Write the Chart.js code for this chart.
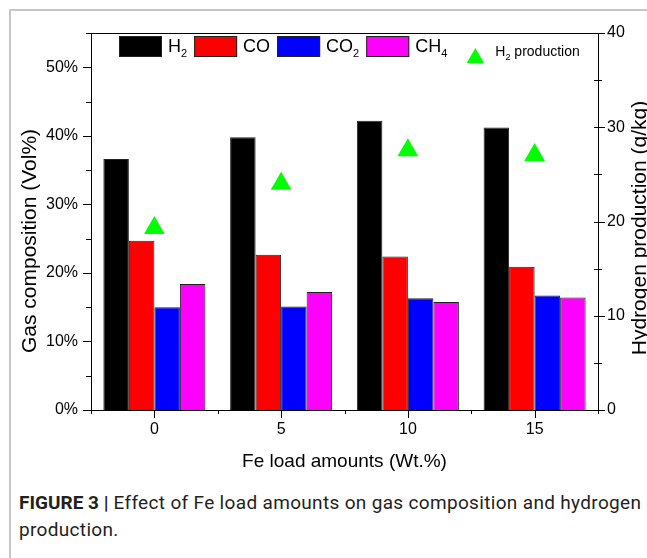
<!DOCTYPE html>
<html lang="en">
<head>
  <meta charset="UTF-8">
  <title>Effect of Fe load amounts on gas composition</title>
  <script src="https://cdn.jsdelivr.net/npm/chart.js"></script>
  <style>
    html, body { margin: 0; padding: 0; background: #fff; }
    body {
      width: 647px; height: 558px;
      position: relative; overflow: hidden;
      font-family: 'Liberation Sans', Arial, sans-serif;
    }
    .frame {
      position: absolute; left: 9px; top: 9px; right: -10px; bottom: -10px;
      border-left: 2px solid #c6c6c6; border-top: 2px solid #c6c6c6;
    }
    #gasChart { position: absolute; left: 0; top: 0; }
    .caption {
      position: absolute; left: 19px; top: 489px;
      font: 19px/27px 'Roboto', 'Liberation Sans', sans-serif;
      letter-spacing: 0.33px;
      color: #231f20;
      white-space: nowrap;
    }
    .caption b { font-weight: bold; letter-spacing: 0; }
  </style>
</head>
<body>
<div class="frame"></div>
<canvas id="gasChart" width="647" height="480"></canvas>
<div class="caption"><b>FIGURE 3 |</b> Effect of Fe load amounts on gas composition and hydrogen<br>production.</div>

<script>
  const feLoads = ['0', '5', '10', '15'];
  const h2 = [36.6, 39.8, 42.2, 41.2];
  const co = [24.7, 22.65, 22.4, 20.9];
  const co2 = [15.0, 15.1, 16.3, 16.7];
  const ch4 = [18.4, 17.2, 15.75, 16.4];
  const h2Production = [19.3, 24.0, 27.55, 27.05];

  const volTicks = [0, 10, 20, 30, 40, 50];
  const prodTicks = [0, 10, 20, 30, 40];

  const FONT = "'Liberation Sans', Arial, sans-serif";

  // outward tick marks on the three axes plus the top edge of the frame
  const axisTicks = {
    id: 'axisTicks',
    afterDraw(chart) {
      const { ctx, chartArea: a, scales } = chart;
      ctx.save();
      ctx.strokeStyle = '#000';
      ctx.lineWidth = 1;
      ctx.beginPath();
      ctx.moveTo(a.left, a.top + 0.5);
      ctx.lineTo(a.right, a.top + 0.5);
      for (let v = 0; v <= 55; v += 5) {
        const y = Math.round(scales.y.getPixelForValue(v)) + 0.5;
        const len = v % 10 === 0 ? 8 : 5;
        ctx.moveTo(a.left - len, y);
        ctx.lineTo(a.left, y);
      }
      for (let v = 0; v <= 40; v += 5) {
        const y = Math.round(scales.y2.getPixelForValue(v)) + 0.5;
        const len = v % 10 === 0 ? 7 : 4;
        ctx.moveTo(a.right - 4, y);
        ctx.lineTo(a.right + len, y);
      }
      const x = scales.x;
      for (let i = 0; i < feLoads.length; i++) {
        const cx = Math.round(x.getPixelForValue(i)) + 0.5;
        ctx.moveTo(cx, a.bottom);
        ctx.lineTo(cx, a.bottom + 8);
      }
      for (let i = 0; i <= feLoads.length; i++) {
        const bx = Math.round(x.getPixelForValue(i - 0.5)) + 0.5;
        ctx.moveTo(bx, a.bottom);
        ctx.lineTo(bx, a.bottom + 4);
      }
      ctx.stroke();
      ctx.restore();
    }
  };

  // text where every digit is set as a subscript (H2, CO2, CH4)
  function drawChemText(ctx, text, x, y, size) {
    for (const ch of text) {
      const sub = /[0-9]/.test(ch);
      ctx.font = (sub ? Math.round(size * 0.62) : size) + 'px ' + FONT;
      ctx.fillText(ch, x, sub ? y + size * 0.28 : y);
      x += ctx.measureText(ch).width;
    }
    return x;
  }

  // one-row legend inside the top of the plot
  const legendRow = {
    id: 'legendRow',
    afterDraw(chart) {
      const ctx = chart.ctx;
      ctx.save();
      ctx.textBaseline = 'alphabetic';
      ctx.textAlign = 'left';
      let x = 119;
      chart.data.datasets.forEach(ds => {
        if (ds.type === 'line') {
          const r = 10, cx = x + 21, cy = 58;
          ctx.fillStyle = ds.pointBackgroundColor;
          ctx.beginPath();
          ctx.moveTo(cx, cy - r);
          ctx.lineTo(cx + r * 0.866, cy + r * 0.5);
          ctx.lineTo(cx - r * 0.866, cy + r * 0.5);
          ctx.closePath();
          ctx.fill();
          ctx.fillStyle = '#000';
          drawChemText(ctx, ds.label, cx + 20, 56, 14);
        } else {
          ctx.fillStyle = ds.backgroundColor;
          ctx.fillRect(x, 36, 43, 21);
          ctx.strokeStyle = '#222';
          ctx.lineWidth = 1;
          ctx.strokeRect(x + 0.5, 36.5, 42, 20);
          ctx.fillStyle = '#000';
          x = drawChemText(ctx, ds.label, x + 49, 52, 18) + 7;
        }
      });
      ctx.restore();
    }
  };

  // both y titles read bottom-to-top
  const sideTitles = {
    id: 'sideTitles',
    afterDraw(chart) {
      const ctx = chart.ctx;
      ctx.save();
      ctx.fillStyle = '#000';
      ctx.font = '21px ' + FONT;
      ctx.textAlign = 'center';
      ctx.textBaseline = 'alphabetic';
      ctx.save();
      ctx.translate(36, 241);
      ctx.rotate(-Math.PI / 2);
      ctx.fillText('Gas composition (Vol%)', 0, 0);
      ctx.restore();
      ctx.translate(646, 228);
      ctx.rotate(-Math.PI / 2);
      ctx.fillText('Hydrogen production (g/kg)', 0, 0);
      ctx.restore();
    }
  };

  const barStyle = { type: 'bar', borderWidth: 1, borderColor: '#222', order: 1,
                     categoryPercentage: 0.805, barPercentage: 1 };

  new Chart(document.getElementById('gasChart'), {
    data: {
      labels: feLoads,
      datasets: [
        { ...barStyle, label: 'H2', data: h2, backgroundColor: '#000000' },
        { ...barStyle, label: 'CO', data: co, backgroundColor: '#ff0000' },
        { ...barStyle, label: 'CO2', data: co2, backgroundColor: '#0000ff' },
        { ...barStyle, label: 'CH4', data: ch4, backgroundColor: '#ff00ff' },
        {
          type: 'line', label: 'H2 production', data: h2Production, yAxisID: 'y2',
          showLine: false, pointStyle: 'triangle', pointRadius: 12,
          pointBackgroundColor: '#00ff00', pointBorderColor: '#00ff00', pointBorderWidth: 0,
          order: 0
        }
      ]
    },
    options: {
      responsive: false,
      animation: false,
      layout: { padding: { top: 33, left: 0, right: 0, bottom: 0 } },
      plugins: { legend: { display: false }, tooltip: { enabled: false } },
      scales: {
        x: {
          offset: true,
          grid: { display: false },
          border: { color: '#000' },
          ticks: { color: '#000', font: { family: FONT, size: 16 }, padding: 2 },
          title: {
            display: true, text: 'Fe load amounts (Wt.%)', color: '#000',
            font: { family: FONT, size: 19 }, padding: { top: 0, bottom: 7 }
          },
          afterFit: s => { s.height = 70; }
        },
        y: {
          position: 'left', min: 0, max: 55,
          grid: { display: false },
          border: { color: '#000' },
          ticks: { color: '#000', font: { family: FONT, size: 16 }, padding: 5, callback: v => v + '%' },
          afterBuildTicks: s => { s.ticks = volTicks.map(v => ({ value: v })); },
          afterFit: s => { s.width = 91; }
        },
        y2: {
          position: 'right', min: 0, max: 40,
          grid: { display: false },
          border: { color: '#000' },
          ticks: { color: '#000', font: { family: FONT, size: 16 }, padding: 1 },
          afterBuildTicks: s => { s.ticks = prodTicks.map(v => ({ value: v })); },
          afterFit: s => { s.width = 49; }
        }
      }
    },
    plugins: [axisTicks, legendRow, sideTitles]
  });
</script>
</body>
</html>
